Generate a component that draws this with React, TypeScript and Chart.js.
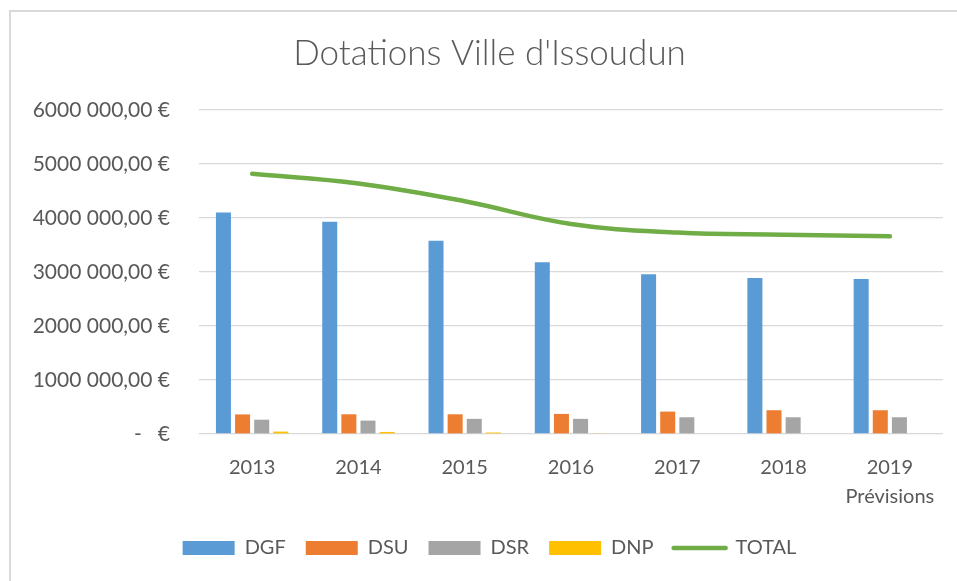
import React, { useEffect, useRef } from "react";
import { Chart, registerables } from "chart.js";

Chart.register(...registerables);

const TITLE = "Dotations Ville d'Issoudun";
const years: (string | string[])[] = ["2013", "2014", "2015", "2016", "2017", "2018", ["2019", "Prévisions"]];
const dgf = [4100000, 3930000, 3580000, 3180000, 2960000, 2890000, 2870000];
const dsu = [363000, 365000, 365000, 372000, 415000, 440000, 440000];
const dsr = [265000, 248000, 280000, 280000, 310000, 310000, 310000];
const dnp = [45000, 38000, 28000, 10000, 0, 0, 0];
const total = [4820000, 4640000, 4310000, 3890000, 3730000, 3690000, 3660000];
const yMax = 6000000;
const yStep = 1000000;

const TEXT = "#595959";
const GRID = "#d9d9d9";
const FONT = "Lato";

function formatEuro(v: number): string {
  if (v === 0) return "-   €";
  const thousands = Math.floor(v / 1000);
  const rest = Math.round(v % 1000);
  return `${thousands} ${String(rest).padStart(3, "0")},00 €`;
}

export default function App() {
  const ref = useRef<HTMLCanvasElement>(null);

  useEffect(() => {
    const canvas = ref.current;
    if (!canvas) return;
    Chart.defaults.font.family = FONT;
    Chart.defaults.color = TEXT;
    const chart = new Chart(canvas, {
      type: "bar",
      data: {
        labels: years,
        datasets: [
          { label: "DGF", data: dgf, backgroundColor: "#5B9BD5" },
          { label: "DSU", data: dsu, backgroundColor: "#ED7D31" },
          { label: "DSR", data: dsr, backgroundColor: "#A5A5A5" },
          { label: "DNP", data: dnp, backgroundColor: "#FFC000" },
          {
            type: "line",
            label: "TOTAL",
            data: total,
            borderColor: "#70AD47",
            backgroundColor: "#70AD47",
            borderWidth: 4.5,
            pointRadius: 0,
            tension: 0.4,
            borderCapStyle: "round",
            borderJoinStyle: "round",
            fill: false,
          } as any,
        ],
      },
      options: {
        responsive: false,
        animation: false,
        layout: { padding: { left: 0, right: 0, top: 0, bottom: 20 } },
        datasets: {
          bar: { categoryPercentage: 0.72, barPercentage: 0.785, borderWidth: 0 },
        } as any,
        scales: {
          x: {
            grid: { display: false },
            border: { display: false },
            ticks: {
              color: TEXT,
              font: { size: 20, lineHeight: 1.45 },
              padding: 11.5,
              maxRotation: 0,
            },
            afterFit: (scale: any) => {
              scale.height = 84;
            },
          },
          y: {
            min: 0,
            max: yMax,
            grid: { color: GRID, lineWidth: 1.3, drawTicks: false },
            border: { display: false },
            ticks: {
              stepSize: yStep,
              color: TEXT,
              font: { size: 21 },
              padding: 29,
              callback: (v: any) => formatEuro(Number(v)),
            },
            afterFit: (scale: any) => {
              scale.width = 188;
            },
          },
          yRightSpace: {
            type: "linear",
            position: "right",
            display: true,
            grid: { display: false, drawTicks: false },
            border: { display: false },
            ticks: { display: false },
            afterFit: (scale: any) => {
              scale.width = 25;
            },
          } as any,
        },
        plugins: {
          tooltip: { enabled: false },
          title: {
            display: true,
            text: TITLE,
            color: TEXT,
            font: { size: 35, weight: "300" as any, lineHeight: 1.2 },
            padding: { top: 21, bottom: 35 },
          },
          legend: {
            position: "bottom",
            labels: {
              color: TEXT,
              font: { size: 20 },
              usePointStyle: true,
              pointStyleWidth: 52,
              boxHeight: 14,
              padding: 20,
              generateLabels: (c: any) => {
                const items = (Chart.defaults.plugins.legend.labels as any).generateLabels(c);
                return items
                  .sort((a: any, b: any) => a.datasetIndex - b.datasetIndex)
                  .map((it: any) => {
                    const ds: any = c.data.datasets[it.datasetIndex];
                    if (ds.type === "line") {
                      return { ...it, pointStyle: "line", lineWidth: 4.5, strokeStyle: ds.borderColor, fillStyle: ds.borderColor, lineCap: "round" };
                    }
                    return { ...it, pointStyle: "rect", lineWidth: 0, fillStyle: ds.backgroundColor, strokeStyle: ds.backgroundColor };
                  });
              },
            },
          },
        },
      },
    });
    return () => chart.destroy();
  }, []);

  return (
    <div style={{ position: "fixed", left: 0, top: 0, width: 957, height: 581, overflow: "hidden", background: "#fff" }}>
      <div
        style={{
          position: "absolute",
          left: 9,
          top: 10,
          width: 990,
          height: 600,
          borderTop: "2px solid #d9d9d9",
          borderLeft: "2px solid #d9d9d9",
          boxSizing: "border-box",
        }}
      >
        <canvas ref={ref} width={957} height={576} style={{ display: "block" }} />
      </div>
    </div>
  );
}
